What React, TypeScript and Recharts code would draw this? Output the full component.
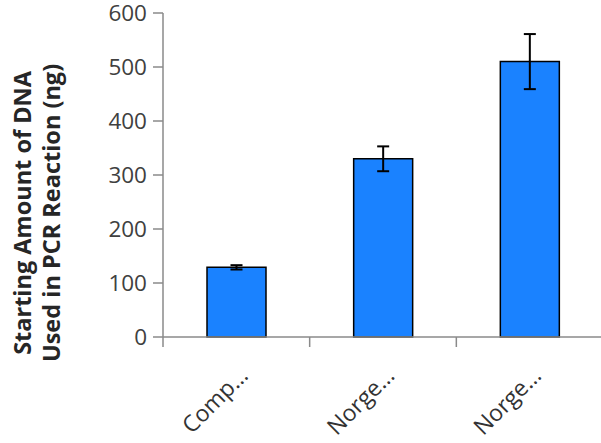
import React from "react";
import { BarChart, Bar, XAxis, YAxis, ErrorBar } from "recharts";

const categories = ["Comp…", "Norge…", "Norge…"];
const amounts = [129, 330, 510];
const errors = [4, 23, 51];
const yTicks = [0, 100, 200, 300, 400, 500, 600];
const yLabelLines = ["Starting Amount of DNA", "Used in PCR Reaction (ng)"];

const data = categories.map((name, i) => ({ name, amount: amounts[i], err: errors[i] }));

const AXIS = "#8a8a8a";
const FONT = "'Open Sans', 'Noto Sans', sans-serif";

const XTick = (props: any) => {
  const { x, y, payload } = props;
  const off = payload && payload.offset ? payload.offset : 0;
  const tx = x + 13;
  const ty = y + 40;
  return (
    <g>
      <line x1={x - off} y1={y} x2={x - off} y2={y + 10} stroke={AXIS} strokeWidth={1.5} />
      <text
        x={tx}
        y={ty}
        transform={`rotate(-45, ${tx}, ${ty})`}
        textAnchor="end"
        fontFamily={FONT}
        fontSize={23}
        fill="#333"
      >
        {payload.value}
      </text>
    </g>
  );
};

const YLabel = (props: any) => {
  const vb = props.viewBox || { x: 0, y: 0, width: 0, height: 0 };
  const cy = vb.y + vb.height / 2 + 38;
  const xs = [22, 51];
  return (
    <g>
      {yLabelLines.map((line, i) => (
        <text
          key={i}
          x={xs[i]}
          y={cy}
          transform={`rotate(-90, ${xs[i]}, ${cy})`}
          textAnchor="middle"
          dominantBaseline="central"
          fontFamily={FONT}
          fontWeight={700}
          fontSize={23.5}
          fill="#262626"
        >
          {line}
        </text>
      ))}
    </g>
  );
};

export default function App() {
  return (
    <div style={{ position: "absolute", left: 0, top: 0, width: 601, height: 443, overflow: "hidden", background: "#fff" }}>
      <BarChart
        width={605}
        height={443}
        data={data}
        margin={{ top: 13, right: 2, bottom: 0, left: 0 }}
        barCategoryGap="30%"
      >
        <XAxis
          dataKey="name"
          height={106}
          tickLine={false}
          tickSize={0}
          tickMargin={0}
          axisLine={{ stroke: AXIS, strokeWidth: 1.5 }}
          tick={<XTick />}
          interval={0}
        />
        <YAxis
          width={163}
          domain={[0, 600]}
          ticks={yTicks}
          interval={0}
          tickSize={10}
          tickMargin={6}
          axisLine={{ stroke: AXIS, strokeWidth: 1.5 }}
          tickLine={{ stroke: AXIS, strokeWidth: 1.5 }}
          tick={{ fontFamily: FONT, fontSize: 22.5, fill: "#404040" }}
          label={{ content: <YLabel /> } as any}
        />
        <Bar dataKey="amount" fill="#1a82ff" stroke="#000" strokeWidth={1.5} isAnimationActive={false}>
          <ErrorBar dataKey="err" width={6} stroke="#000" strokeWidth={2} />
        </Bar>
      </BarChart>
    </div>
  );
}
